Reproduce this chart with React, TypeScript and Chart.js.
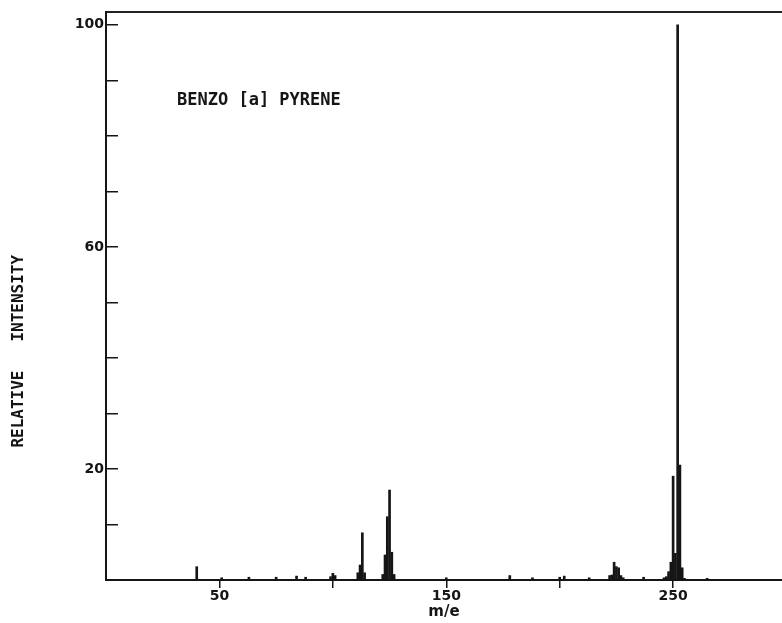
import React, { useEffect, useRef } from "react";
import { Chart, registerables } from "chart.js";

Chart.register(...registerables);

// m/e values and their relative intensities (percent of base peak)
const massValues = [
  40, 51, 63, 75, 84, 88, 99, 100, 101,
  111, 112, 113, 114,
  122, 123, 124, 125, 126, 127,
  150, 178, 188, 200, 202, 213,
  222, 223, 224, 225, 226, 227, 228, 237,
  246, 247, 248, 249, 250, 251, 252, 253, 254, 255, 265,
];
const intensities = [
  2.4, 0.4, 0.5, 0.5, 0.7, 0.5, 0.6, 1.2, 0.8,
  1.3, 2.7, 8.5, 1.3,
  1.0, 4.5, 11.4, 16.2, 5.0, 1.0,
  0.4, 0.8, 0.4, 0.5, 0.7, 0.4,
  0.8, 0.9, 3.2, 2.4, 2.2, 0.8, 0.4, 0.5,
  0.4, 0.6, 1.5, 3.2, 18.7, 4.8, 100, 20.7, 2.2, 0.3, 0.3,
];
const xTickValues = [0, 50, 100, 150, 200, 250];
const xLabeled = [50, 150, 250];
const yTickValues = [0, 10, 20, 30, 40, 50, 60, 70, 80, 90, 100];
const yLabeled = [20, 60, 100];
const compoundName = "BENZO [a] PYRENE";
const yTitle = "RELATIVE   INTENSITY";
const xTitle = "m/e";

const INK = "#151515";

const noPad = (s: any) => {
  s.paddingTop = 0;
  s.paddingBottom = 0;
  s.paddingLeft = 0;
  s.paddingRight = 0;
};

const textPlugin = {
  id: "textPlugin",
  afterDraw(chart: any) {
    const { ctx, scales } = chart;
    ctx.save();
    ctx.fillStyle = INK;
    // compound name inside plot
    ctx.font = "bold 17px 'DejaVu Sans Mono', monospace";
    ctx.textAlign = "left";
    ctx.textBaseline = "middle";
    ctx.fillText(compoundName, scales.x.getPixelForValue(31.3), scales.y.getPixelForValue(86.4));
    // y axis title
    ctx.font = "bold 16px 'DejaVu Sans Mono', monospace";
    ctx.translate(19, scales.y.getPixelForValue(41.2));
    ctx.rotate(-Math.PI / 2);
    ctx.textAlign = "center";
    ctx.fillText(yTitle, 0, 0);
    ctx.restore();
  },
};

export default function App() {
  const ref = useRef<HTMLCanvasElement | null>(null);
  useEffect(() => {
    document.body.style.margin = "0";
    const canvas = ref.current!;
    const tickFont = { family: "'DejaVu Sans', sans-serif", weight: "bold" as const, size: 14 };
    const chart = new Chart(canvas, {
      type: "bar",
      data: {
        datasets: [
          {
            data: massValues.map((m, i) => ({ x: m, y: intensities[i] })),
            backgroundColor: INK,
            borderWidth: 0,
            barThickness: 2,
            grouped: false,
          } as any,
        ],
      },
      options: {
        animation: false,
        responsive: false,
        layout: { padding: 0 },
        plugins: { legend: { display: false }, tooltip: { enabled: false } },
        scales: {
          x: {
            type: "linear",
            position: "bottom",
            min: 0,
            max: 298,
            offset: false,
            afterBuildTicks: (s: any) => {
              s.ticks = xTickValues.map((v) => ({ value: v }));
            },
            afterFit: (s: any) => {
              s.height = 43;
              noPad(s);
            },
            grid: {
              offset: false,
              drawOnChartArea: false,
              drawTicks: true,
              tickLength: 8,
              lineWidth: 1.5,
              tickColor: (c: any) => (c.tick && c.tick.value === 0 ? "rgba(0,0,0,0)" : INK),
            },
            border: { display: true, width: 2, color: INK },
            ticks: {
              autoSkip: false,
              maxRotation: 0,
              padding: 0,
              color: INK,
              font: tickFont,
              callback: (v: any) => (xLabeled.includes(Number(v)) ? String(v) : ""),
            },
            title: {
              display: true,
              text: xTitle,
              color: INK,
              font: { family: "'DejaVu Sans', sans-serif", weight: "bold", size: 15 },
              padding: { top: 0, bottom: 2 },
            },
          },
          x2: {
            type: "linear",
            position: "top",
            min: 0,
            max: 298,
            offset: false,
            afterFit: (s: any) => {
              s.height = 12;
              noPad(s);
            },
            grid: { display: false, offset: false, drawOnChartArea: false, lineWidth: 2 },
            border: { display: true, width: 2, color: "#222" },
            ticks: { display: false },
          },
          y: {
            type: "linear",
            min: 0,
            max: 102.3,
            afterBuildTicks: (s: any) => {
              s.ticks = yTickValues.map((v) => ({ value: v }));
            },
            afterFit: (s: any) => {
              s.width = 106;
              noPad(s);
            },
            grid: {
              drawOnChartArea: false,
              drawTicks: true,
              tickLength: -12,
              lineWidth: 1.5,
              color: INK,
            },
            border: { display: true, width: 2, color: INK },
            ticks: {
              autoSkip: false,
              padding: 14,
              color: INK,
              font: tickFont,
              callback: (v: any) => (yLabeled.includes(Number(v)) ? String(v) : ""),
            },
          },
        },
      } as any,
      plugins: [textPlugin],
    });
    return () => chart.destroy();
  }, []);
  return (
    <div style={{ width: 782, height: 623 }}>
      <canvas ref={ref} width={782} height={623} style={{ display: "block" }} />
    </div>
  );
}
